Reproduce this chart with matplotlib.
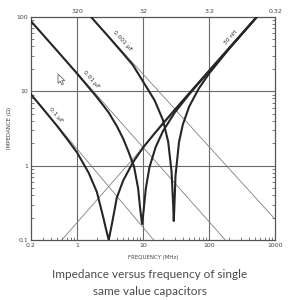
import matplotlib
matplotlib.use("Agg")
import matplotlib.pyplot as plt
from matplotlib.patches import Polygon
from matplotlib.ticker import FixedLocator, NullFormatter, LogLocator

# ---- data ----
# thick impedance curves: frequency (MHz) / impedance (ohm)
f_01uF = [0.2, 0.3, 0.5, 0.7, 1, 1.5, 2, 2.5, 2.8, 3.02, 3.4, 4, 5, 7, 10, 15, 20, 30, 50, 100, 200, 530, 1000]
z_01uF = [9.1, 5.9, 3.4, 2.3, 1.5, 0.80, 0.44, 0.20, 0.13, 0.10, 0.17, 0.37, 0.63, 1.10, 1.75, 2.72, 3.69, 5.60, 9.39, 18.8, 37.7, 100, 188]

f_001uF = [0.2, 0.3, 0.5, 1, 2, 3, 4, 5, 6, 7.3, 8.4, 9.1, 9.66, 10.2, 11, 12.5, 15.5, 20, 30, 50, 100, 200, 530, 1000]
z_001uF = [87.5, 58.3, 34.9, 17.3, 8.3, 5.2, 3.4, 2.3, 1.55, 0.97, 0.50, 0.25, 0.164, 0.25, 0.49, 0.95, 1.77, 2.9, 5.13, 9.11, 18.7, 37.6, 100, 188]

f_0001uF = [1.62, 2, 3, 5, 7, 10, 15, 20, 24, 27, 28.6, 29.2, 29.8, 31, 35, 40, 50, 70, 100, 200, 530, 1000]
z_0001uF = [100, 81, 54, 32, 22.5, 13.5, 7.5, 4.1, 2.1, 0.83, 0.29, 0.18, 0.28, 0.73, 2.06, 3.56, 6.24, 10.9, 17.3, 36.9, 99.7, 188]

# thin ideal reactance lines (end points)
f_line_01uF = [0.2, 14.5]
z_line_01uF = [9.1, 0.1]
f_line_001uF = [0.2, 176]
z_line_001uF = [88, 0.1]
f_line_0001uF = [1.62, 1000]
z_line_0001uF = [100, 0.19]
f_line_30nH = [0.587, 543]
z_line_30nH = [0.1, 100]

x_ticks = [0.2, 1, 10, 100, 1000]
x_tick_labels = ["0.2", "1", "10", "100", "1000"]
y_ticks = [0.1, 1, 10, 100]
y_tick_labels = ["0.1", "1", "10", "100"]
top_ticks = [1, 10, 100, 1000]
top_tick_labels = ["320", "32", "3.2", "0.32"]

caption = "Impedance versus frequency of single\nsame value capacitors"

# ---- figure ----
fig = plt.figure(figsize=(3, 3), dpi=100)
ax = fig.add_axes([0.103, 0.2, 0.814, 0.744])
ax.set_xscale("log")
ax.set_yscale("log")
ax.set_xlim(0.2, 1000)
ax.set_ylim(0.1, 100)

thin = dict(color="#808080", lw=0.6, zorder=2)
for fx, zy in [(f_line_01uF, z_line_01uF), (f_line_001uF, z_line_001uF),
               (f_line_0001uF, z_line_0001uF), (f_line_30nH, z_line_30nH)]:
    ax.plot(fx, zy, **thin)

thick = dict(color="#262626", lw=1.5, zorder=3, solid_joinstyle="round")
ax.plot(f_01uF, z_01uF, **thick)
ax.plot(f_001uF, z_001uF, **thick)
ax.plot(f_0001uF, z_0001uF, **thick)

# grid at decades
for gx in [1, 10, 100]:
    ax.axvline(gx, color="#6a6a6a", lw=0.8, zorder=1)
for gy in [1, 10]:
    ax.axhline(gy, color="#6a6a6a", lw=0.8, zorder=1)

for s in ax.spines.values():
    s.set_color("#555555")
    s.set_linewidth(0.9)

ax.xaxis.set_major_locator(FixedLocator(x_ticks))
ax.set_xticklabels(x_tick_labels)
ax.yaxis.set_major_locator(FixedLocator(y_ticks))
ax.set_yticklabels(y_tick_labels)
ax.xaxis.set_minor_locator(LogLocator(base=10, subs=range(2, 10)))
ax.yaxis.set_minor_locator(LogLocator(base=10, subs=range(2, 10)))
ax.xaxis.set_minor_formatter(NullFormatter())
ax.yaxis.set_minor_formatter(NullFormatter())
ax.tick_params(which="both", direction="in", colors="#666666", labelcolor="#444444",
               labelsize=4.5, right=True, top=False, pad=2)
ax.tick_params(which="major", length=0)
ax.tick_params(which="minor", length=2.5, width=0.6)

sec = ax.secondary_xaxis("top")
sec.xaxis.set_major_locator(FixedLocator(top_ticks))
sec.set_xticklabels(top_tick_labels)
sec.xaxis.set_minor_locator(FixedLocator([]))
sec.tick_params(length=0, labelsize=4.5, labelcolor="#444444", pad=2)
sec.spines["top"].set_visible(False)

ax.set_ylabel("IMPEDANCE (Ω)", fontsize=4, color="#444444", labelpad=3)
ax.set_xlabel("FREQUENCY (MHz)", fontsize=4, color="#444444", labelpad=5)

lab = dict(fontsize=4.2, color="#333333", ha="center", va="center", zorder=4)
ax.text(4.9, 47, "0.001 µF", rotation=-48, **lab)
ax.text(1.62, 14.5, "0.01 µF", rotation=-48, **lab)
ax.text(0.477, 4.75, "0.1 µF", rotation=-48, **lab)
ax.text(213, 53, "30 nH", rotation=48, **lab)

# mouse-pointer artefact visible in the scanned figure (figure pixel coords, y down)
tip_x, tip_y, s = 58, 74, 0.85
shape = [(0, 0), (0, 11), (2.6, 8.4), (4.6, 12.6), (6.4, 11.8), (4.4, 7.8), (8, 7.8)]
pts = [((tip_x + s * px) / 300, 1 - (tip_y + s * py) / 300) for px, py in shape]
fig.add_artist(Polygon(pts, closed=True, facecolor="white", edgecolor="#666666",
                       lw=0.6, transform=fig.transFigure, zorder=5))

fig.text(0.5, 0.058, caption, ha="center", va="center", fontsize=8.5,
         family="Lato", color="#4a4a4a", linespacing=1.65)

fig.savefig("out.png", dpi=100)
